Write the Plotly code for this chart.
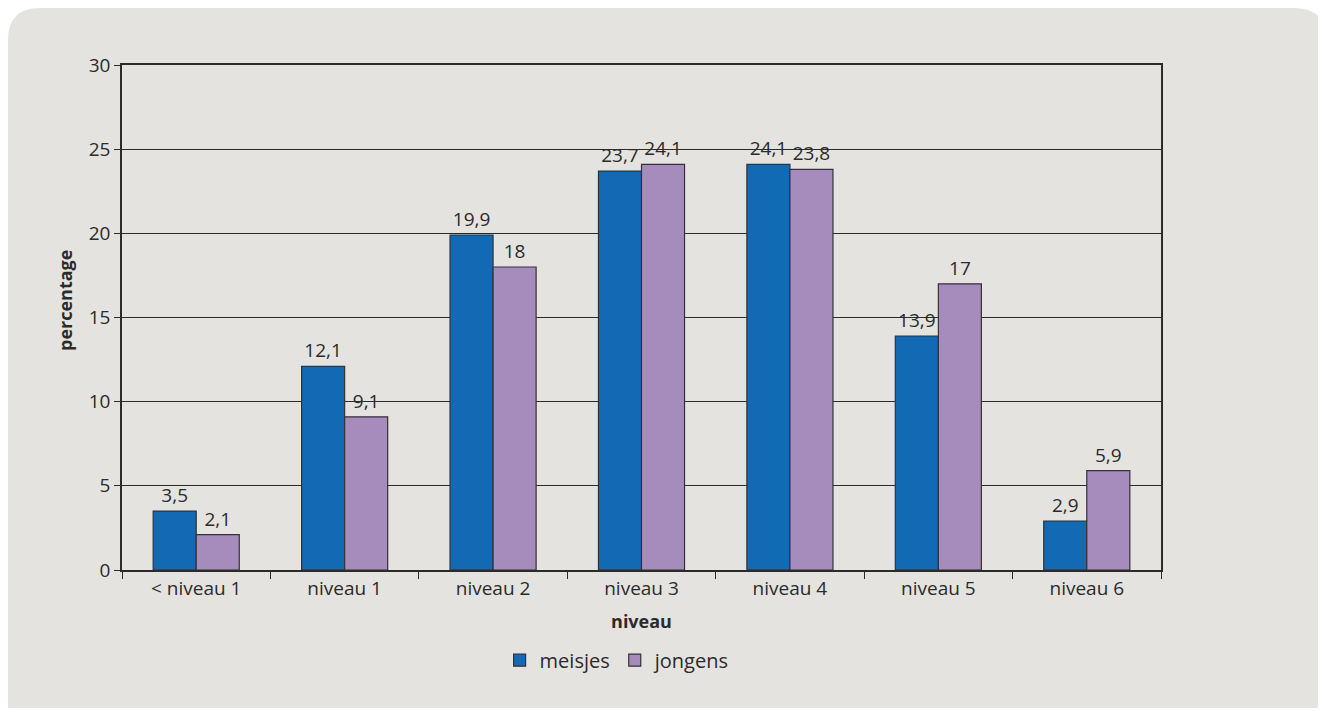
import plotly.graph_objects as go

# data
categories = ["< niveau 1", "niveau 1", "niveau 2", "niveau 3", "niveau 4", "niveau 5", "niveau 6"]
meisjes = [3.5, 12.1, 19.9, 23.7, 24.1, 13.9, 2.9]
jongens = [2.1, 9.1, 18.0, 24.1, 23.8, 17.0, 5.9]
y_ticks = [0, 5, 10, 15, 20, 25, 30]

def labels(vals):  # dutch decimal comma
    return [f"{v:g}".replace(".", ",") for v in vals]

fnt = "Open Sans, Noto Sans, DejaVu Sans, sans-serif"
dark = "#2b2b2b"
bg = "#e4e3e0"

W, H = 1326, 715
ml, mr, mt, mb = 114, 173, 57, 153
pw, ph = W - ml - mr, H - mt - mb

def px(x):  # figure pixel -> paper x
    return (x - ml) / pw

def py(y):  # figure pixel -> paper y
    return (H - mb - y) / ph

fig = go.Figure()
for name, vals, col in [("meisjes", meisjes, "#1269b4"), ("jongens", jongens, "#a68bbd")]:
    fig.add_trace(go.Bar(
        x=categories, y=vals, name=name,
        marker=dict(color=col, line=dict(color="#333333", width=1.2)),
        text=labels(vals), textposition="outside", cliponaxis=False,
        textfont=dict(size=19, color=dark, family=fnt),
    ))

# rounded grey panel behind the chart
x0, x1, yt, yb, r = 0, 1318, 0, 700, 32
path = (f"M {px(x0)},{py(yb)} L {px(x0)},{py(yt + r)} Q {px(x0)},{py(yt)} {px(x0 + r)},{py(yt)} "
        f"L {px(x1 - r)},{py(yt)} Q {px(x1)},{py(yt)} {px(x1)},{py(yt + r)} L {px(x1)},{py(yb)} Z")
fig.add_shape(type="path", xref="paper", yref="paper", layer="below",
              path=path, fillcolor=bg, line=dict(width=0))

# y axis title (sits a bit above the middle in the original)
fig.add_annotation(text="<b>percentage</b>", textangle=-90, xref="paper", yref="paper",
                   x=px(57), y=py(293), xanchor="center", yanchor="middle",
                   showarrow=False, font=dict(size=18, color=dark))

fig.update_layout(
    width=W, height=H,
    margin=dict(l=ml, r=mr, t=mt, b=mb),
    paper_bgcolor="white", plot_bgcolor=bg,
    barmode="group", bargap=0.42, bargroupgap=0,
    font=dict(family=fnt, size=19, color=dark),
    uniformtext=dict(minsize=19, mode="show"),
    legend=dict(orientation="h", x=0.477, xanchor="center", y=-0.14, yanchor="top",
                font=dict(size=20, color=dark), bgcolor="rgba(0,0,0,0)",
                itemwidth=30, traceorder="normal"),
    showlegend=True,
)
fig.update_yaxes(
    range=[0, 30], tickvals=y_ticks, showgrid=True, gridcolor=dark, gridwidth=1.2,
    showline=True, linecolor=dark, linewidth=1.5, mirror=True,
    ticks="outside", ticklen=6, tickcolor=dark, tickfont=dict(size=19),
    zeroline=False,
)
fig.update_xaxes(
    showline=True, linecolor=dark, linewidth=1.5, mirror=True,
    ticks="outside", tickson="boundaries", ticklen=7, tickcolor=dark,
    tickfont=dict(size=19),
    title=dict(text="<b>niveau</b>", font=dict(size=18), standoff=16),
)

fig.write_html("out.html")
